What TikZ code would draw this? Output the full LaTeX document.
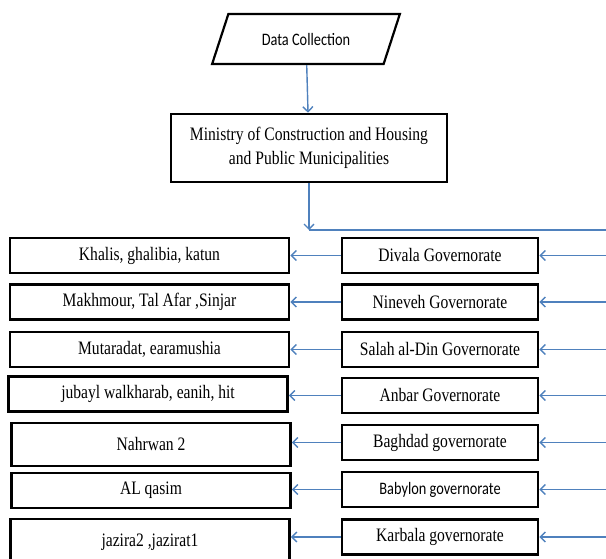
\documentclass[tikz,border=0pt]{standalone}
\usepackage{fontspec}
\setmainfont{Liberation Serif}[FakeStretch=0.82]
\newfontfamily\calibri{Carlito}[FakeStretch=0.82]
\usetikzlibrary{shapes.geometric,arrows.meta}
\definecolor{bleulien}{HTML}{4F81BD}
\begin{document}
\begin{tikzpicture}[x=1pt,y=-1pt,
		boite/.style={draw, line width=2.6pt, inner sep=0pt, font=\fontsize{19}{24}\selectfont},
		gauche/.style={boite, minimum width=279pt, minimum height=35pt},
		droite/.style={boite, minimum width=196pt, minimum height=35pt},
		fleche/.style={-{Straight Barb[length=5pt,width=10pt]}, line width=1.4pt, color=bleulien},
		trait/.style={line width=1.4pt, color=bleulien}]
	\useasboundingbox (0,0) rectangle (606,559);
					\node[draw, line width=2.2pt, trapezium, trapezium stretches=true, trapezium left angle=53, trapezium right angle=127, minimum width=188pt, minimum height=50pt, inner sep=0pt, font=\calibri\fontsize{17.5}{20}\selectfont] (D) at (306,39) {Data Collection};
					\node[boite, minimum width=276pt, minimum height=68pt, align=center] (M) at (309,148) {Ministry of Construction and Housing\\and Public Municipalities};
					\coordinate (K) at (309,230);
					\coordinate (R) at (606,230);
					\node[droite] (G1) at (440,255.5) {Divala Governorate};
					\node[droite] (G2) at (440,302) {Nineveh Governorate};
					\node[droite] (G3) at (440,349.5) {Salah al-Din Governorate};
					\node[droite] (G4) at (440,395.5) {Anbar Governorate};
					\node[droite] (G5) at (440,442.5) {Baghdad governorate};
					\node[droite, font=\calibri\fontsize{17.5}{20}\selectfont] (G6) at (440,489.5) {Babylon governorate};
					\node[droite] (G7) at (440,537) {Karbala governorate};
					\node[gauche] (L1) at (149.5,255.5) {Khalis, ghalibia, katun};
					\node[gauche] (L2) at (149.5,302) {Makhmour, Tal Afar ,Sinjar};
					\node[gauche] (L3) at (149.5,349.5) {Mutaradat, earamushia};
					\node[gauche] (L4) at (148,394) {jubayl walkharab, eanih, hit};
					\node[gauche, minimum height=43pt] (L5) at (151,444.5) {Nahrwan 2};
					\node[gauche] (L6) at (151,490.5) {AL qasim};
					\node[gauche, minimum height=46pt] (L7) at (150,542) {jazira2 ,jazirat1};
					% Flèches bleues entre les boîtes
					\draw[fleche] (D) -- (M);
					\draw[fleche] (M) -- (K);
					\draw[trait] (K) -- (R);
					\draw[fleche] (R |- G1) -- (G1);
					\draw[fleche] (R |- G2) -- (G2);
					\draw[fleche] (R |- G3) -- (G3);
					\draw[fleche] (R |- G4) -- (G4);
					\draw[fleche] (R |- G5) -- (G5);
					\draw[fleche] (R |- G6) -- (G6);
					\draw[fleche] (R |- G7) -- (G7);
					\draw[fleche] (G1.west) -- (G1.west -| L1.east);
					\draw[fleche] (G2.west) -- (G2.west -| L2.east);
					\draw[fleche] (G3.west) -- (G3.west -| L3.east);
					\draw[fleche] (G4.west) -- (G4.west -| L4.east);
					\draw[fleche] (G5.west) -- (G5.west -| L5.east);
					\draw[fleche] (G6.west) -- (G6.west -| L6.east);
					\draw[fleche] (G7.west) -- (G7.west -| L7.east);
		\end{tikzpicture}
\end{document}
